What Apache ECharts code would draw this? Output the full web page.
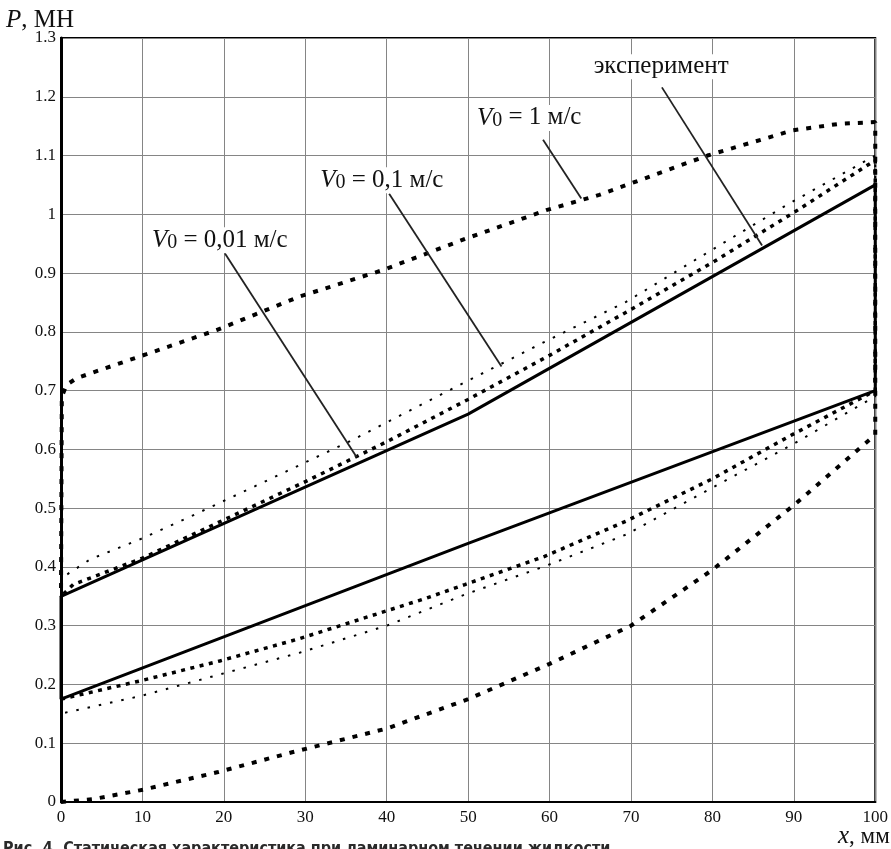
<!DOCTYPE html>
<html><head><meta charset="utf-8">
<script src="https://cdn.jsdelivr.net/npm/echarts@6/dist/echarts.min.js"></script>
<style>html,body{margin:0;padding:0;background:#fff}#c{width:891px;height:849px}</style>
</head><body><div id="c"></div>
<script>
// ---- data ----
const expX = [0, 50, 100, 100, 50, 0, 0];
const expY = [0.175, 0.44, 0.70, 1.05, 0.66, 0.35, 0.175];

// V0 = 0,01 m/s (square-dotted)
const v001X = [0, 9.7, 19.5, 29.3, 44.9, 49.6, 59.4, 69.4, 80, 89.4, 100, 100, 90, 80, 70, 60, 50, 40, 30, 20, 10, 1.5, 0];
const v001Y = [0.175, 0.206, 0.24, 0.278, 0.347, 0.37, 0.418, 0.478, 0.55, 0.622, 0.70, 1.092, 1.003, 0.918, 0.838, 0.76, 0.685, 0.613, 0.545, 0.48, 0.415, 0.37, 0.35];

// V0 = 0,1 m/s (thin dotted)
const v01X = [0.5, 9.7, 19.5, 29.3, 40, 49.6, 59.4, 69.4, 80, 89.4, 100, 100, 89.4, 80, 69.4, 59.4, 50, 35.5, 25, 15.8, 9.7, 3.6, 0.5];
const v01Y = [0.152, 0.18, 0.217, 0.254, 0.30, 0.353, 0.401, 0.455, 0.535, 0.605, 0.69, 1.10, 1.018, 0.94, 0.851, 0.783, 0.717, 0.614, 0.545, 0.485, 0.447, 0.413, 0.385];

// V0 = 1 m/s (coarse dotted)
const v1X = [0, 4, 10.1, 19.3, 28.5, 40, 50, 60, 70, 80, 90, 100, 100, 95.6, 89.9, 79.4, 66.1, 59.6, 49.8, 39.5, 29.3, 19.1, 10.5, 4.8, 1.9, 0.7, 0.1, 0];
const v1Y = [0, 0.005, 0.021, 0.051, 0.085, 0.125, 0.175, 0.235, 0.30, 0.395, 0.505, 0.625, 1.157, 1.154, 1.143, 1.10, 1.033, 1.007, 0.959, 0.905, 0.86, 0.803, 0.762, 0.735, 0.721, 0.71, 0.69, 0.35];

// annotations: label centre and leader line (data coordinates)
const annoNames = ['v001', 'v01', 'v1', 'exp'];
const annoLabelX = [19.5, 39.4, 57.5, 73.7];
const annoLabelY = [0.956, 1.058, 1.164, 1.251];
const leaderX1 = [20.1, 40.3, 59.2, 73.8];
const leaderY1 = [0.934, 1.035, 1.127, 1.216];
const leaderX2 = [36.3, 54.1, 63.9, 86.1];
const leaderY2 = [0.587, 0.741, 1.027, 0.947];
const annoVal = ['0,01', '0,1', '1', null];

const xMin = 0, xMax = 100, xStep = 10;
const yMin = 0, yMax = 1.3, yStep = 0.1;

const zip = (a, b) => a.map((v, i) => [v, b[i]]);
const SERIF = '"Liberation Serif","Times New Roman",serif';

const chart = echarts.init(document.getElementById('c'), null, {renderer: 'canvas'});

const series = [
  {name: 'V0=1', type: 'line', data: zip(v1X, v1Y), symbol: 'none', z: 3,
   lineStyle: {color: '#000', width: 4, type: [5, 8], cap: 'butt'}},
  {name: 'V0=0,1', type: 'line', data: zip(v01X, v01Y), symbol: 'none', z: 3,
   lineStyle: {color: '#000', width: 2, type: [2.5, 9], cap: 'butt'}},
  {name: 'V0=0,01', type: 'line', data: zip(v001X, v001Y), symbol: 'none', z: 4,
   lineStyle: {color: '#000', width: 3.5, type: [4, 5.5], cap: 'butt'}},
  {name: 'эксперимент', type: 'line', data: zip(expX, expY), symbol: 'none', z: 5,
   lineStyle: {color: '#000', width: 3, type: 'solid'}}
];
annoNames.forEach((n, i) => {
  series.push({name: 'leader_' + n, type: 'line', symbol: 'none', z: 6,
    data: [[leaderX1[i], leaderY1[i]], [leaderX2[i], leaderY2[i]]],
    lineStyle: {color: '#222', width: 1.8}});
});

chart.setOption({
  animation: false,
  backgroundColor: '#fff',
  grid: {left: 61, right: 15, top: 38, bottom: 47, show: true, borderColor: '#000', borderWidth: 2},
  xAxis: {
    type: 'value', min: xMin, max: xMax, interval: xStep,
    axisLine: {show: true, onZero: false, lineStyle: {color: '#000', width: 2}},
    axisTick: {show: false},
    splitLine: {show: true, lineStyle: {color: '#858585', width: 1}},
    axisLabel: {color: '#111', fontFamily: SERIF, fontSize: 17, margin: 7}
  },
  yAxis: {
    type: 'value', min: yMin, max: yMax, interval: yStep,
    axisLine: {show: true, onZero: false, lineStyle: {color: '#000', width: 3}},
    axisTick: {show: false},
    splitLine: {show: true, lineStyle: {color: '#858585', width: 1}},
    axisLabel: {color: '#111', fontFamily: SERIF, fontSize: 17, margin: 5,
      formatter: v => String(Math.round(v * 10) / 10)}
  },
  series: series
});

// text annotations placed through the chart's own coordinate conversion
const graphics = [];
annoNames.forEach((n, i) => {
  const p = chart.convertToPixel({gridIndex: 0}, [annoLabelX[i], annoLabelY[i]]);
  let style;
  if (annoVal[i] !== null) {
    style = {
      text: '{v|V}{s|0}{t| = ' + annoVal[i] + ' м/с}',
      rich: {
        v: {fontFamily: SERIF, fontStyle: 'italic', fontSize: 25, fill: '#111'},
        s: {fontFamily: SERIF, fontSize: 20, fill: '#111', padding: [6, 0, 0, 0]},
        t: {fontFamily: SERIF, fontSize: 25, fill: '#111'}
      }
    };
  } else {
    style = {text: 'эксперимент', font: '25px ' + SERIF, fill: '#111'};
  }
  style.align = 'center';
  style.verticalAlign = 'middle';
  style.backgroundColor = '#fff';
  style.padding = [0, 2];
  graphics.push({type: 'text', x: p[0], y: p[1], z: 100, style: style});
});
// axis names and caption
graphics.push({type: 'text', left: 6, top: 8, z: 100, style: {
  text: '{i|P}{n|, МН}', rich: {
    i: {fontFamily: SERIF, fontStyle: 'italic', fontSize: 25, fill: '#111'},
    n: {fontFamily: SERIF, fontSize: 25, fill: '#111'}}}});
graphics.push({type: 'text', x: 838, y: 824, z: 100, style: {
  text: '{i|x}{n|, мм}', rich: {
    i: {fontFamily: SERIF, fontStyle: 'italic', fontSize: 25, fill: '#111'},
    n: {fontFamily: SERIF, fontSize: 23, fill: '#111'}}}});
graphics.push({type: 'text', x: 3, y: 841, z: 100, style: {
  text: 'Рис. 4. Статическая характеристика при ламинарном течении жидкости',
  font: 'bold 16px "Liberation Sans Narrow","DejaVu Sans Condensed",sans-serif', fill: '#2a2a2a'}});
chart.setOption({graphic: graphics});
</script>
</body></html>
